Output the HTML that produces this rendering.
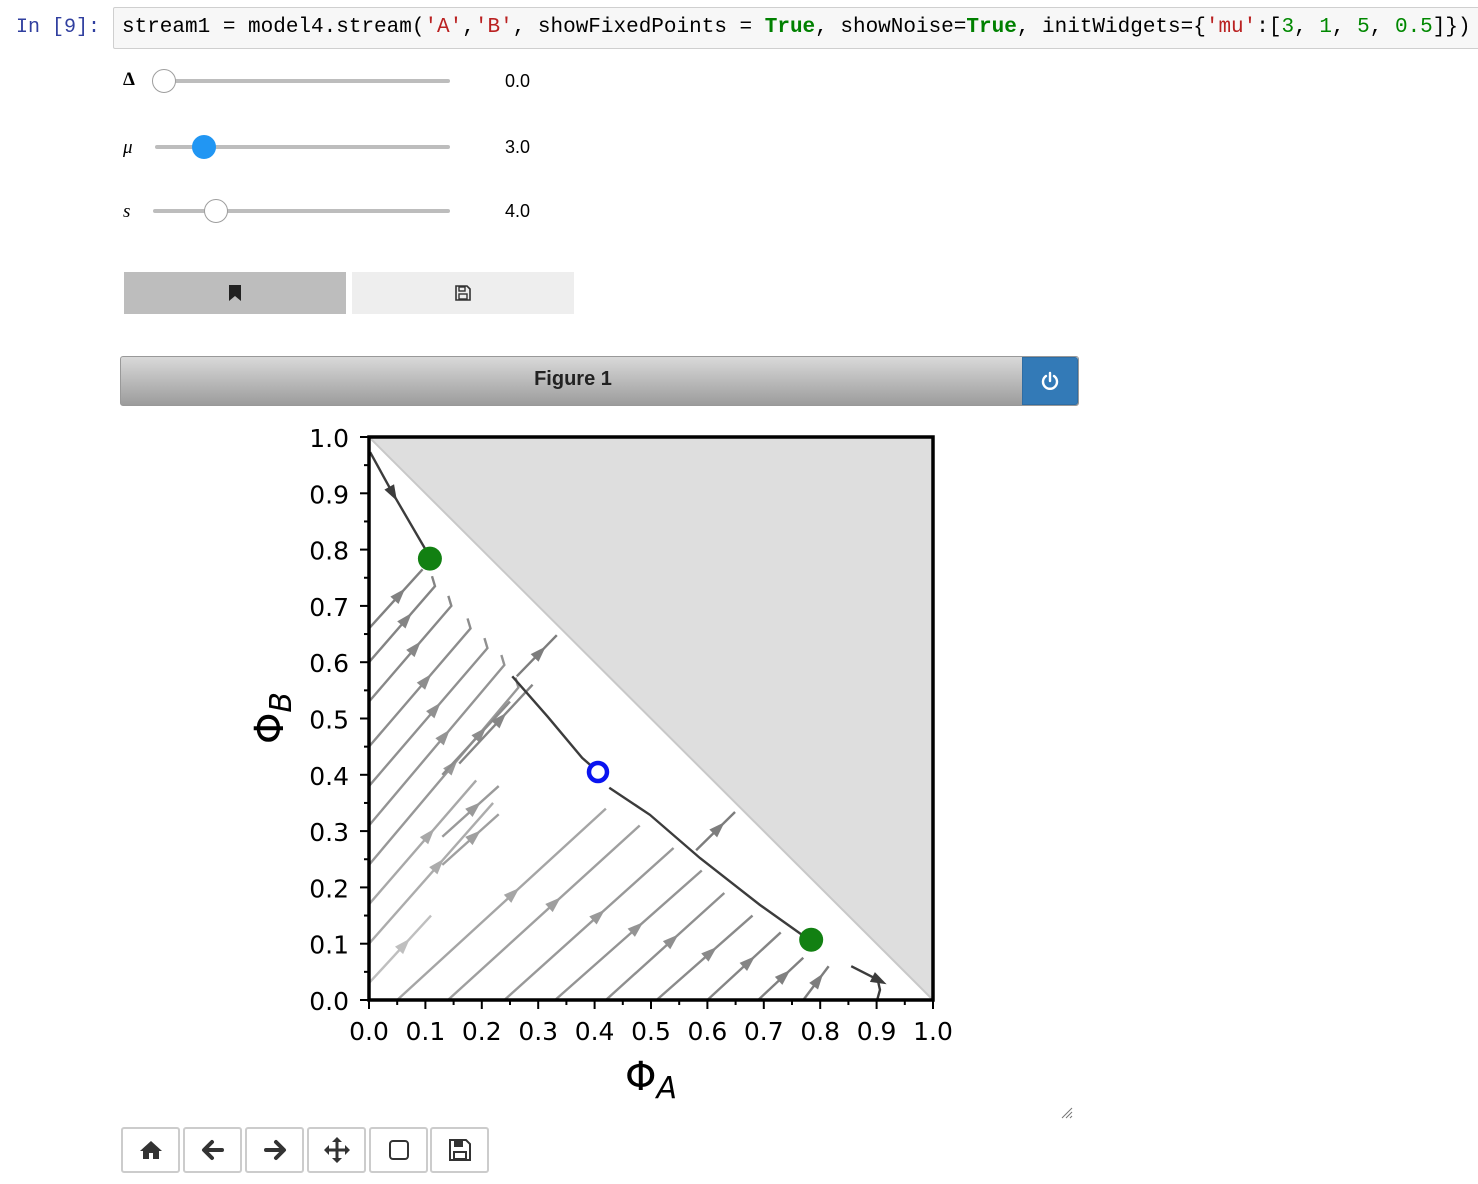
<!DOCTYPE html>
<html><head><meta charset="utf-8">
<style>
body{margin:0;width:1478px;height:1184px;background:#fff;position:relative;overflow:hidden;font-family:"Liberation Sans",sans-serif}
.abs{position:absolute}
.mono{font-family:"Liberation Mono",monospace}
.track{position:absolute;height:4px;background:#bdbdbd;border-radius:2px}
.handle{position:absolute;width:24px;height:24px;border-radius:50%;background:#fff;border:1.5px solid #9e9e9e;box-sizing:border-box}
.val{position:absolute;left:505px;font-size:18px;color:#000}
.lbl{position:absolute;left:123px;font-family:"Liberation Serif",serif;font-size:19px;font-style:italic}
.tb{position:absolute;top:1127px;width:59px;height:46px;border:2px solid #ccc;border-radius:3px;box-sizing:border-box;background:#fff;display:flex;align-items:center;justify-content:center}
</style></head><body>
<div class="abs mono" style="left:16px;top:16px;font-size:20px;color:#303F9F">In [9]:</div>
<div class="abs mono" style="left:113px;top:7px;width:1380px;height:42px;background:#f7f7f7;border:1px solid #cfcfcf;border-radius:2px;box-sizing:border-box;padding:8px 8px;font-size:21px;white-space:pre;color:#000">stream1 = model4.stream(<span style="color:#BA2121">'A'</span>,<span style="color:#BA2121">'B'</span>, showFixedPoints = <b style="color:#008000">True</b>, showNoise=<b style="color:#008000">True</b>, initWidgets={<span style="color:#BA2121">'mu'</span>:[<span style="color:#080">3</span>, <span style="color:#080">1</span>, <span style="color:#080">5</span>, <span style="color:#080">0.5</span>]})</div>

<div class="lbl" style="top:69px;font-style:normal;font-weight:bold">Δ</div>
<div class="track" style="left:155px;top:79px;width:295px"></div>
<div class="handle" style="left:152px;top:69px"></div>
<div class="val" style="top:71px">0.0</div>

<div class="lbl" style="top:137px">μ</div>
<div class="track" style="left:155px;top:145px;width:295px"></div>
<div class="handle" style="left:192px;top:135px;background:#2196f3;border-color:#2196f3"></div>
<div class="val" style="top:137px">3.0</div>

<div class="lbl" style="top:201px">s</div>
<div class="track" style="left:153px;top:209px;width:297px"></div>
<div class="handle" style="left:204px;top:199px"></div>
<div class="val" style="top:201px">4.0</div>

<div class="abs" style="left:124px;top:272px;width:222px;height:42px;background:#bdbdbd;display:flex;align-items:center;justify-content:center">
<svg width="16" height="18" viewBox="0 0 16 18"><path d="M2 1h12v16l-6-5-6 5z" fill="#222"/></svg></div>
<div class="abs" style="left:352px;top:272px;width:222px;height:42px;background:#eeeeee;display:flex;align-items:center;justify-content:center">
<svg width="18" height="18" viewBox="0 0 18 18"><path d="M2 2h11l3 3v11H2z" fill="none" stroke="#333" stroke-width="1.6"/><rect x="5" y="3" width="6" height="4" fill="none" stroke="#333" stroke-width="1.4"/><rect x="5" y="10" width="8" height="5" fill="none" stroke="#333" stroke-width="1.4"/></svg></div>

<div class="abs" style="left:120px;top:356px;width:959px;height:50px;box-sizing:border-box;border:1px solid #999;border-radius:3px;background:linear-gradient(#d9d9d9,#9c9c9c)"></div>
<div class="abs" style="left:120px;top:368px;width:906px;text-align:center;font-weight:bold;font-size:20px;color:#222">Figure 1</div>
<div class="abs" style="left:1022px;top:357px;width:56px;height:48px;background:#337ab7;border:1px solid #2e6da4;box-sizing:border-box;border-radius:0 3px 3px 0;display:flex;align-items:center;justify-content:center">
<svg width="20" height="20" viewBox="0 0 20 20"><path d="M6 5a7 7 0 1 0 8 0" fill="none" stroke="#fff" stroke-width="2.4" stroke-linecap="round"/><line x1="10" y1="2" x2="10" y2="10" stroke="#fff" stroke-width="2.4" stroke-linecap="round"/></svg></div>

<svg id="chart" class="abs" style="left:0;top:0" width="1478" height="1184"></svg>

<div class="tb" style="left:121px"><svg width="24" height="22" viewBox="0 0 24 22"><path d="M12 2L1 12h3v8h6v-6h4v6h6v-8h3z" fill="#333"/></svg></div>
<div class="tb" style="left:183px"><svg width="24" height="22" viewBox="0 0 24 22"><path d="M11 3L3 11l8 8M4 11h17" fill="none" stroke="#333" stroke-width="4" stroke-linecap="round" stroke-linejoin="round"/></svg></div>
<div class="tb" style="left:245px"><svg width="24" height="22" viewBox="0 0 24 22"><path d="M13 3l8 8-8 8M20 11H3" fill="none" stroke="#333" stroke-width="4" stroke-linecap="round" stroke-linejoin="round"/></svg></div>
<div class="tb" style="left:307px"><svg width="28" height="28" viewBox="0 0 28 28"><path d="M14 3v22M3 14h22" stroke="#333" stroke-width="3"/><path d="M14 1l-5 5h10zM14 27l-5-5h10zM1 14l5-5v10zM27 14l-5-5v10z" fill="#333"/></svg></div>
<div class="tb" style="left:369px"><svg width="24" height="24" viewBox="0 0 24 24"><rect x="3" y="3" width="18" height="18" rx="3" fill="none" stroke="#333" stroke-width="2"/></svg></div>
<div class="tb" style="left:430px"><svg width="24" height="24" viewBox="0 0 24 24"><path d="M2 2h16l4 4v16H2z" fill="none" stroke="#333" stroke-width="2"/><rect x="6" y="3" width="9" height="6" fill="#333"/><rect x="6" y="14" width="12" height="7" fill="none" stroke="#333" stroke-width="2"/></svg></div>
<svg class="abs" style="left:1060px;top:1106px" width="14" height="14"><path d="M12 2L2 12M12 6L6 12M12 10L10 12" stroke="#777" stroke-width="1"/></svg>

<script>
// streamlines: [x0,y0,x1,y1] in data units
const upperLines=[[0,0.66,0.095,0.765],[0,0.60,0.117,0.735],[0,0.53,0.146,0.70],[0,0.45,0.18,0.66],[0,0.38,0.21,0.625],[0,0.31,0.24,0.595],[0,0.24,0.265,0.555]];
const lowerLines=[[0,0.17,0.19,0.39],[0,0.10,0.22,0.35],[0,0.03,0.11,0.15],[0.05,0,0.42,0.34],[0.14,0,0.48,0.31],[0.24,0,0.54,0.27],[0.33,0,0.59,0.23],[0.42,0,0.63,0.19],[0.51,0,0.68,0.15],[0.60,0,0.73,0.12],[0.69,0,0.77,0.075],[0.77,0,0.815,0.06]];
const shortLines=[[0.262,0.575,0.333,0.648],[0.58,0.266,0.649,0.334],[0.13,0.40,0.25,0.53],[0.16,0.42,0.29,0.56],[0.13,0.29,0.23,0.38],[0.13,0.24,0.23,0.33]];
const darkCurves=[
 [[0.002,0.973],[0.041,0.902],[0.105,0.792]],
 [[0.254,0.575],[0.317,0.503],[0.378,0.430],[0.402,0.409]],
 [[0.426,0.377],[0.498,0.329],[0.587,0.252],[0.693,0.169],[0.780,0.107]],
 [[0.855,0.060],[0.902,0.036],[0.906,0.018],[0.901,0.0]]];
const stablePoints=[[0.108,0.784],[0.784,0.107]];
const saddlePoints=[[0.406,0.405]];
const xTicks=[0,0.1,0.2,0.3,0.4,0.5,0.6,0.7,0.8,0.9,1.0];
const yTicks=[0,0.1,0.2,0.3,0.4,0.5,0.6,0.7,0.8,0.9,1.0];

const L=369,R=933,T=437,B=1000;
const sx=v=>L+v*(R-L), sy=v=>B-v*(B-T);
const svg=document.getElementById('chart');const NS='http://www.w3.org/2000/svg';
function mk(tag,attrs,parent){const e=document.createElementNS(NS,tag);for(const k in attrs)e.setAttribute(k,attrs[k]);(parent||svg).appendChild(e);return e;}

const tri=mk('polygon',{points:`${sx(0)},${sy(1)} ${sx(1)},${sy(1)} ${sx(1)},${sy(0)}`,fill:'#dedede'});

const dg=mk('line',{x1:sx(0),y1:sy(1),x2:sx(1),y2:sy(0),stroke:'#c8c8c8','stroke-width':2});


function arrow(x1,y1,x2,y2,t,col){
 const px=x1+(x2-x1)*t,py=y1+(y2-y1)*t;const a=Math.atan2(y2-y1,x2-x1);
 const s=10;const p=[[px+s*Math.cos(a),py+s*Math.sin(a)],[px-s*0.6*Math.cos(a)+s*0.55*Math.sin(a),py-s*0.6*Math.sin(a)-s*0.55*Math.cos(a)],[px-s*0.6*Math.cos(a)-s*0.55*Math.sin(a),py-s*0.6*Math.sin(a)+s*0.55*Math.cos(a)]];
 const e=mk('polygon',{points:p.map(q=>q.join(',')).join(' '),fill:col});
 
}
function shade(x,y){const d=Math.max(0,Math.min(1,(x+y)/0.8));const c=Math.round(205-d*80);return `rgb(${c},${c},${c})`;}
function drawLine(l,hook){
 const [a,b,c,d]=l;const x1=sx(a),y1=sy(b),x2=sx(c),y2=sy(d);const col=shade((a+c)/2,(b+d)/2);
 let pts=`${x1},${y1} ${x2},${y2}`;
 if(hook)pts+=` ${x2-3},${y2-10}`;
 const e=mk('polyline',{points:pts,fill:'none',stroke:col,'stroke-width':2.4});
 
 arrow(x1,y1,x2,y2,0.55,col);
}
upperLines.forEach((l,i)=>drawLine(l,i>0));
lowerLines.forEach(l=>drawLine(l,false));
shortLines.forEach(l=>drawLine(l,false));
darkCurves.forEach((c,i)=>{
 const e=mk('polyline',{points:c.map(p=>sx(p[0])+','+sy(p[1])).join(' '),fill:'none',stroke:'#3c3c3c','stroke-width':2.4});
 
});
arrow(sx(darkCurves[0][0][0]),sy(darkCurves[0][0][1]),sx(darkCurves[0][1][0]),sy(darkCurves[0][1][1]),1,'#3c3c3c');
arrow(sx(darkCurves[3][0][0]),sy(darkCurves[3][0][1]),sx(darkCurves[3][1][0]),sy(darkCurves[3][1][1]),1,'#3c3c3c');
stablePoints.forEach(p=>{const e=mk('circle',{cx:sx(p[0]),cy:sy(p[1]),r:12,fill:'#128012'});
 });
saddlePoints.forEach(p=>{const e=mk('circle',{cx:sx(p[0]),cy:sy(p[1]),r:9,fill:'#fff',stroke:'#0a14f0','stroke-width':4.5});
 });

const fr=mk('rect',{x:L,y:T,width:R-L,height:B-T,fill:'none',stroke:'#000','stroke-width':3.5});

for(let i=0;i<=20;i++){const v=i/20,maj=i%2==0;
 const tx=mk('line',{x1:sx(v),y1:B,x2:sx(v),y2:B+(maj?9:5),stroke:'#000','stroke-width':2});
 
 const ty=mk('line',{x1:L,y1:sy(v),x2:L-(maj?9:5),y2:sy(v),stroke:'#000','stroke-width':2});
 }
xTicks.forEach(v=>{const t=mk('text',{x:sx(v),y:B+40,'text-anchor':'middle','font-size':25,'font-family':'DejaVu Sans, Liberation Sans, sans-serif'});t.textContent=v.toFixed(1);
 });
yTicks.forEach(v=>{const t=mk('text',{x:L-20,y:sy(v)+10,'text-anchor':'end','font-size':25,'font-family':'DejaVu Sans, Liberation Sans, sans-serif'});t.textContent=v.toFixed(1);
 });
const xt=mk('text',{x:651,y:1090,'text-anchor':'middle','font-size':40,'font-family':'DejaVu Sans, sans-serif'});
xt.innerHTML='Φ<tspan font-size="30" font-style="italic" dy="8">A</tspan>';

const yt=mk('text',{x:0,y:0,'text-anchor':'middle','font-size':40,'font-family':'DejaVu Sans, sans-serif',transform:'translate(283,718) rotate(-90)'});
yt.innerHTML='Φ<tspan font-size="30" font-style="italic" dy="8">B</tspan>';

</script>
</body></html>
